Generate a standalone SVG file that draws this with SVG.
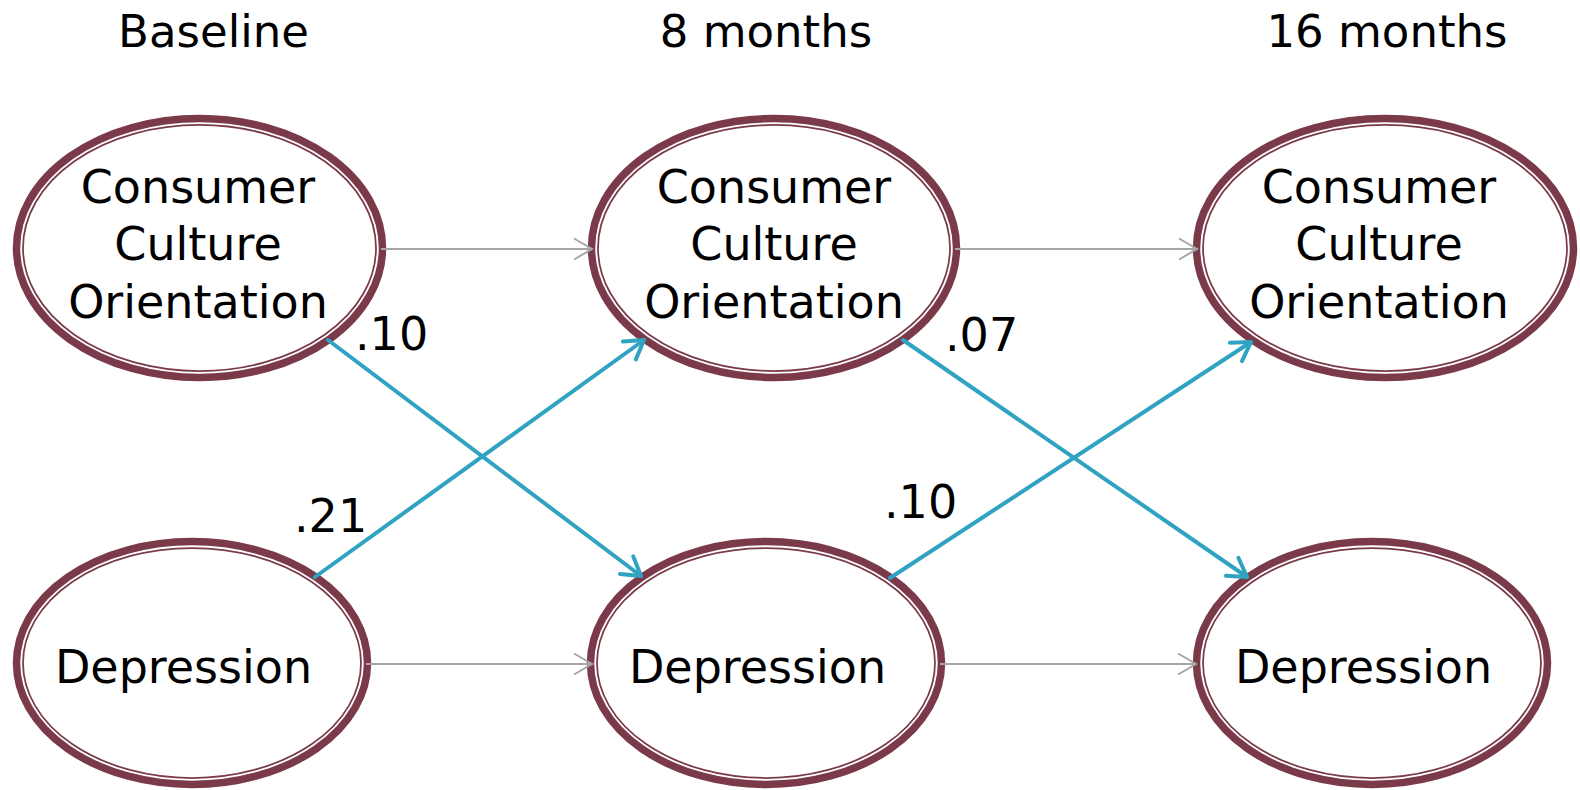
<svg xmlns="http://www.w3.org/2000/svg" width="1580" height="790" viewBox="0 0 1580 790">
<defs>
<style>
.outer{fill:#ffffff;stroke:#7B3A4A;stroke-width:7.5}
.inner{fill:none;stroke:#7B3A4A;stroke-width:1.75}
.lbl{font-family:"DejaVu Sans","Liberation Sans",sans-serif;font-size:46px;fill:#000;text-anchor:middle}
.num{font-family:"DejaVu Sans","Liberation Sans",sans-serif;font-size:46px;fill:#000}
.hdr{font-family:"DejaVu Sans","Liberation Sans",sans-serif;font-size:45px;fill:#000;text-anchor:middle}
.gray{stroke:#A6A6A6;stroke-width:2;fill:none;marker-end:url(#ga)}
.blue{stroke:#2FA3C1;stroke-width:4;fill:none;stroke-linecap:round;marker-end:url(#ba)}
</style>
<marker id="ga" markerUnits="userSpaceOnUse" orient="auto" markerWidth="30" markerHeight="30" viewBox="-25 -15 30 30" refX="0" refY="0" overflow="visible">
<path d="M-18,-10.5 L0,0 L-18,10.5" fill="none" stroke="#A6A6A6" stroke-width="2"/>
</marker>
<marker id="ba" markerUnits="userSpaceOnUse" orient="auto" markerWidth="30" markerHeight="30" viewBox="-25 -15 30 30" refX="0" refY="0" overflow="visible">
<path d="M-18,-11 L0,0 L-18,11" fill="none" stroke="#2FA3C1" stroke-width="4" stroke-linecap="round" stroke-linejoin="round"/>
</marker>
</defs>
<rect width="1580" height="790" fill="#ffffff"/>

<g id="headers">
<text class="hdr" x="213.5" y="47">Baseline</text>
<text class="hdr" x="766" y="47">8 months</text>
<text class="hdr" x="1387" y="47">16 months</text>
</g>

<g id="cco-baseline">
<ellipse class="outer" cx="199.5" cy="248" rx="183" ry="129.5"/>
<ellipse class="inner" cx="199.5" cy="248" rx="176.5" ry="123"/>
<text class="lbl" x="198" y="203">Consumer</text>
<text class="lbl" x="198" y="260">Culture</text>
<text class="lbl" x="198" y="318">Orientation</text>
</g>

<g id="cco-8m">
<ellipse class="outer" cx="774" cy="248" rx="182.5" ry="129.5"/>
<ellipse class="inner" cx="774" cy="248" rx="176" ry="123"/>
<text class="lbl" x="774" y="203">Consumer</text>
<text class="lbl" x="774" y="260">Culture</text>
<text class="lbl" x="774" y="318">Orientation</text>
</g>

<g id="cco-16m">
<ellipse class="outer" cx="1385" cy="248" rx="188.5" ry="129.5"/>
<ellipse class="inner" cx="1385" cy="248" rx="182" ry="123"/>
<text class="lbl" x="1379" y="203">Consumer</text>
<text class="lbl" x="1379" y="260">Culture</text>
<text class="lbl" x="1379" y="318">Orientation</text>
</g>

<g id="dep-baseline">
<ellipse class="outer" cx="192" cy="663" rx="175.5" ry="121.5"/>
<ellipse class="inner" cx="192" cy="663" rx="169" ry="115"/>
<text class="lbl" x="183.5" y="683">Depression</text>
</g>

<g id="dep-8m">
<ellipse class="outer" cx="766" cy="663" rx="175.5" ry="121.5"/>
<ellipse class="inner" cx="766" cy="663" rx="169" ry="115"/>
<text class="lbl" x="757.5" y="683">Depression</text>
</g>

<g id="dep-16m">
<ellipse class="outer" cx="1372" cy="663" rx="175.5" ry="121.5"/>
<ellipse class="inner" cx="1372" cy="663" rx="169" ry="115"/>
<text class="lbl" x="1363.5" y="683">Depression</text>
</g>

<g id="connectors">
<line class="gray" x1="381" y1="249" x2="592" y2="249"/>
<line class="gray" x1="955" y1="249" x2="1197" y2="249"/>
<line class="gray" x1="366" y1="664" x2="592" y2="664"/>
<line class="gray" x1="940" y1="664" x2="1196" y2="664"/>
<line class="blue" x1="328" y1="340" x2="641" y2="576"/>
<line class="blue" x1="315" y1="577" x2="644" y2="340"/>
<line class="blue" x1="903" y1="340" x2="1247" y2="577"/>
<line class="blue" x1="890" y1="578" x2="1251" y2="342"/>
</g>

<g id="coefficients">
<text class="num" x="355" y="350">.10</text>
<text class="num" x="945" y="351">.07</text>
<text class="num" x="294" y="532">.21</text>
<text class="num" x="884" y="518">.10</text>
</g>
</svg>
